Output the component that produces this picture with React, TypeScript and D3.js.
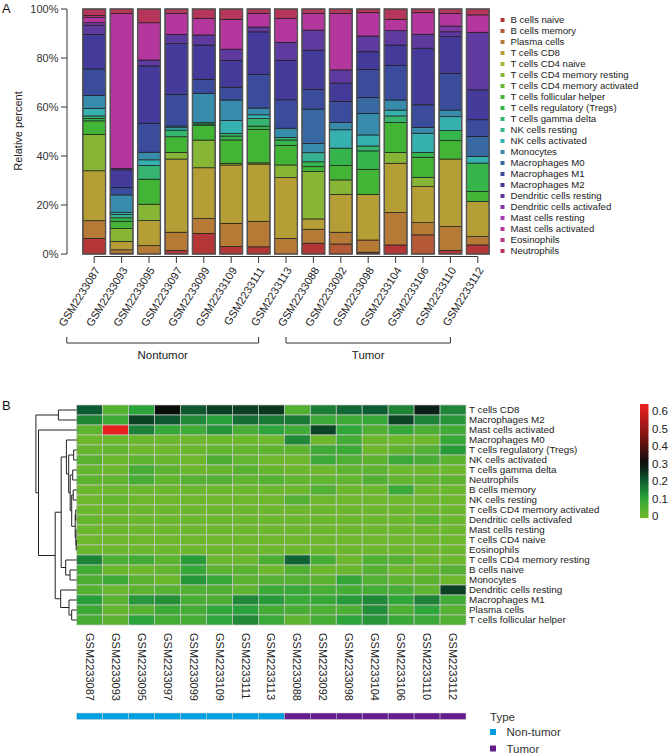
import React from "react";
import * as d3 from "d3";

// ---------- DATA ----------
const cellTypes = [
  "B cells naive", "B cells memory", "Plasma cells", "T cells CD8", "T cells CD4 naive",
  "T cells CD4 memory resting", "T cells CD4 memory activated", "T cells follicular helper",
  "T cells regulatory (Tregs)", "T cells gamma delta", "NK cells resting", "NK cells activated",
  "Monocytes", "Macrophages M0", "Macrophages M1", "Macrophages M2", "Dendritic cells resting",
  "Dendritic cells activafed", "Mast cells resting", "Mast cells activated", "Eosinophils", "Neutrophils",
];

const samples = [
  "GSM2233087", "GSM2233093", "GSM2233095", "GSM2233097", "GSM2233099", "GSM2233109", "GSM2233111",
  "GSM2233113", "GSM2233088", "GSM2233092", "GSM2233098", "GSM2233104", "GSM2233106", "GSM2233110",
  "GSM2233112",
];

const sampleType = [
  "Non-tumor", "Non-tumor", "Non-tumor", "Non-tumor", "Non-tumor", "Non-tumor", "Non-tumor", "Non-tumor",
  "Tumor", "Tumor", "Tumor", "Tumor", "Tumor", "Tumor", "Tumor",
];

// percentages per sample, in cellTypes order
const GSM2233087 = [6.4, 0, 7.2, 20.4, 0, 14.8, 0, 5.6, 1.0, 1.0, 0, 3.1, 5.2, 0, 10.9, 14.1, 3.8, 1.0, 0, 2.2, 0.7, 2.7];
const GSM2233093 = [0.3, 0, 1.4, 3.4, 0, 5.2, 0, 3.0, 1.4, 0, 1.4, 0.7, 7.2, 0, 3.0, 7.2, 0.5, 0, 0, 63.0, 0, 1.8];
const GSM2233095 = [0, 0, 3.4, 10.2, 0, 6.7, 0, 10.2, 0, 5.6, 0, 2.3, 3.1, 0, 11.8, 23.4, 2.4, 0, 0, 15.2, 0, 5.6];
const GSM2233097 = [1.4, 0, 7.5, 29.9, 0, 2.7, 0, 6.4, 0, 2.7, 0, 1.0, 0.7, 0, 12.9, 20.8, 3.7, 0, 0, 8.6, 0, 1.8];
const GSM2233099 = [8.4, 0, 6.1, 20.7, 0, 11.3, 0, 6.1, 0.5, 0.5, 0, 0, 12.0, 0, 5.7, 14.0, 4.1, 0, 0, 6.8, 0, 3.8];
const GSM2233109 = [3.0, 0, 9.5, 23.8, 0, 0.7, 0, 9.5, 1.6, 1.1, 0, 5.2, 8.4, 0, 5.2, 10.9, 4.6, 0, 0, 12.2, 0, 4.2];
const GSM2233111 = [3.0, 0, 10.6, 23.8, 0, 0.5, 0, 13.9, 1.4, 3.1, 0, 1.6, 2.8, 0, 13.9, 17.8, 2.0, 0, 0, 5.7, 0, 1.8];
const GSM2233113 = [0, 0, 6.4, 24.8, 0, 5.2, 0, 7.9, 2.3, 1.0, 0, 0, 3.8, 0, 11.6, 16.0, 7.5, 0, 0, 9.8, 0, 3.8];
const GSM2233088 = [4.4, 0, 5.7, 4.2, 0, 19.3, 0, 2.0, 2.0, 0, 3.7, 0, 3.8, 14.0, 8.0, 16.0, 8.2, 0, 0, 6.8, 0, 1.8];
const GSM2233092 = [0, 4.1, 4.8, 15.5, 0, 5.9, 0, 5.9, 7.1, 0, 0, 7.5, 3.0, 0, 8.6, 7.5, 5.4, 0, 0, 23.1, 0, 1.8];
const GSM2233098 = [0.7, 0, 5.0, 18.6, 0, 0, 0, 10.2, 7.5, 2.0, 0, 4.5, 8.8, 6.5, 11.4, 7.2, 6.4, 0, 0, 9.5, 0, 1.5];
const GSM2233104 = [3.7, 0, 13.2, 20.1, 0, 4.4, 0, 12.2, 0, 2.7, 0, 2.4, 4.1, 0, 14.0, 8.4, 5.9, 0, 0, 4.6, 0, 4.2];
const GSM2233106 = [0, 7.8, 5.0, 14.7, 0, 3.8, 0, 8.2, 2.0, 0, 0, 7.8, 2.3, 0, 9.3, 23.1, 5.7, 0, 0, 8.8, 0, 1.5];
const GSM2233110 = [1.4, 0, 9.8, 27.6, 0, 0, 0, 7.5, 4.1, 0, 0, 5.7, 2.7, 0, 15.0, 15.0, 2.0, 2.3, 0, 5.2, 0, 1.8];
const GSM2233112 = [3.7, 0, 3.4, 14.3, 0, 0, 0, 4.1, 11.6, 0, 0, 2.7, 0, 8.2, 6.8, 12.2, 23.5, 0, 0, 7.1, 0, 2.4];

const sampleValues = [
  GSM2233087, GSM2233093, GSM2233095, GSM2233097, GSM2233099, GSM2233109, GSM2233111, GSM2233113,
  GSM2233088, GSM2233092, GSM2233098, GSM2233104, GSM2233106, GSM2233110, GSM2233112,
];

const yTicks = [0, 0.2, 0.4, 0.6, 0.8, 1];
const groupLabels = ["Nontumor", "Tumor"];

// heatmap row order (clustered)
const heatRows = [
  "T cells CD8", "Macrophages M2", "Mast cells activated", "Macrophages M0", "T cells regulatory (Tregs)",
  "NK cells activated", "T cells gamma delta", "Neutrophils", "B cells memory", "NK cells resting",
  "T cells CD4 memory activated", "Dendritic cells activafed", "Mast cells resting", "T cells CD4 naive",
  "Eosinophils", "T cells CD4 memory resting", "B cells naive", "Monocytes", "Dendritic cells resting",
  "Macrophages M1", "Plasma cells", "T cells follicular helper",
];

// dendrogram: [left, right, height]; leaves are heatRows indices
const midRest = [[4, 5, 3], [[6, 7, 4], [[8, 9, 3.5], [[10, 11, 1], [12, [13, 14, 0.5], 0.8], 1.5], 5], 6.5], 8];
const dendrogram = [
  [0, 1, 18.3],
  [2, [[[3, midRest, 10.3], [15, [16, 17, 6.7], 11], 15.5], [18, [19, [20, 21, 5], 7.7], 16], 21.5], 38.2],
  40.8,
];

const colorTicks = [0, 0.1, 0.2, 0.3, 0.4, 0.5, 0.6];
const heatDomain = [0, 0.1, 0.2, 0.3, 0.45, 0.64];
const heatColors = ["#6cb82c", "#2ca53a", "#0d5e32", "#0a0d0a", "#7a1414", "#ee2020"];
const typeColors = { "Non-tumor": "#00a0e0", "Tumor": "#651c8c" };

// ---------- HELPERS ----------
function hsv(h: number, s: number, v: number) {
  const c = v * s;
  const hp = (h % 360) / 60;
  const x = c * (1 - Math.abs((hp % 2) - 1));
  let r = 0, g = 0, b = 0;
  if (hp < 1) [r, g, b] = [c, x, 0];
  else if (hp < 2) [r, g, b] = [x, c, 0];
  else if (hp < 3) [r, g, b] = [0, c, x];
  else if (hp < 4) [r, g, b] = [0, x, c];
  else if (hp < 5) [r, g, b] = [x, 0, c];
  else [r, g, b] = [c, 0, x];
  const m = v - c;
  return d3.rgb((r + m) * 255, (g + m) * 255, (b + m) * 255).formatHex();
}
function paletteColor(h: number) {
  const bump = Math.exp(-Math.pow((h - 240) / 45, 2));
  return hsv(h, 0.7 - 0.08 * bump, 0.71 - 0.11 * bump);
}

const FONT = "'Liberation Sans', Arial, Helvetica, sans-serif";

export default function App() {
  const W = 668, H = 754;

  // ---- Panel A ----
  const color = d3.scaleOrdinal<string, string>()
    .domain(cellTypes)
    .range(cellTypes.map((_, i) => paletteColor((i / cellTypes.length) * 360)));

  const table = samples.map((s, j) => {
    const o: any = { sample: s };
    cellTypes.forEach((t, i) => (o[t] = sampleValues[j][i]));
    return o;
  });
  const series = d3.stack<any>().keys(cellTypes).offset(d3.stackOffsetExpand)(table);

  const yA = d3.scaleLinear().domain([0, 1]).range([254, 9]);
  const xA = d3.scaleBand().domain(samples).range([80.5, 491.5]).paddingInner(0.17).paddingOuter(0.085);
  const bw = xA.bandwidth();
  const xc = (s: string) => (xA(s) as number) + bw / 2;
  const axisY = 256.5;

  const groupsIdx = groupLabels.map((g, gi) => {
    const key = gi === 0 ? "Non-tumor" : "Tumor";
    const idx = samples.map((_, i) => i).filter((i) => sampleType[i] === key);
    return { label: g, first: idx[0], last: idx[idx.length - 1] };
  });

  // ---- Panel B ----
  const hx0 = 76.7, hx1 = 466;
  const hy0 = 405, hy1 = 625;
  const xB = d3.scaleBand().domain(samples).range([hx0, hx1]);
  const yB = d3.scaleBand().domain(heatRows).range([hy0, hy1]);
  const heatColor = d3.scaleLinear<string>().domain(heatDomain).range(heatColors).clamp(true);

  // dendrogram layout
  const dx = d3.scaleLinear().domain([0, 40.8]).range([hx0, 35.9]);
  const segs: [number, number, number, number][] = [];
  const layout = (node: any): { y: number; h: number } => {
    if (typeof node === "number") {
      return { y: (yB(heatRows[node]) as number) + yB.bandwidth() / 2, h: 0 };
    }
    const a = layout(node[0]);
    const b = layout(node[1]);
    const h = node[2];
    segs.push([dx(h), a.y, dx(h), b.y]);
    segs.push([dx(a.h), a.y, dx(h), a.y]);
    segs.push([dx(b.h), b.y, dx(h), b.y]);
    return { y: (a.y + b.y) / 2, h };
  };
  layout(dendrogram);

  const cbScale = d3.scaleLinear().domain([0, 0.6]).range([516, 411]);
  const cbTop = cbScale(0.64), cbBot = cbScale(-0.012);
  const gradStops = d3.range(0, 1.0001, 0.05).map((t) => {
    const v = -0.012 + t * (0.64 + 0.012);
    return { off: t, col: heatColor(Math.max(0, v)) };
  });

  return (
    <svg width={W} height={H} style={{ position: "absolute", left: 0, top: 0, background: "#fff" }}
      fontFamily={FONT}>
      {/* ===== Panel A ===== */}
      <text x={2} y={13} fontSize={13} fill="#111">A</text>

      {/* y axis */}
      <line x1={67} x2={67} y1={yA(0)} y2={yA(1)} stroke="#333" strokeWidth={1} />
      {yTicks.map((t) => (
        <g key={t}>
          <line x1={61} x2={67} y1={yA(t)} y2={yA(t)} stroke="#333" strokeWidth={1} />
          <text x={58.5} y={yA(t)} dy="0.35em" textAnchor="end" fontSize={11} fill="#333">
            {`${Math.round(t * 100)}%`}
          </text>
        </g>
      ))}
      <text transform={`translate(18,131) rotate(-90)`} textAnchor="middle" dy="0.35em" fontSize={11} fill="#222">
        Relative percent
      </text>

      {/* bars */}
      {series.map((s) => (
        <g key={s.key} fill={color(s.key)}>
          {s.map((d, j) => {
            const y1 = yA(d[1]), y0 = yA(d[0]);
            if (y0 - y1 < 0.05) return null;
            return (
              <rect key={j} x={xA(samples[j])} y={y1} width={bw} height={y0 - y1}
                stroke="#1a1a1a" strokeWidth={0.7} />
            );
          })}
        </g>
      ))}
      {samples.map((s) => (
        <rect key={s} x={xA(s)} y={yA(1)} width={bw} height={yA(0) - yA(1)} fill="none"
          stroke="#555" strokeWidth={1.4} />
      ))}

      {/* x axis */}
      <line x1={xc(samples[0])} x2={xc(samples[samples.length - 1])} y1={axisY} y2={axisY} stroke="#333" />
      {samples.map((s) => (
        <g key={s}>
          <line x1={xc(s)} x2={xc(s)} y1={axisY} y2={263} stroke="#333" />
          <text transform={`translate(${xc(s) + 3},${268}) rotate(-58)`} textAnchor="end" dy="0.35em"
            fontSize={11} fill="#222">{s}</text>
        </g>
      ))}

      {/* group brackets */}
      {groupsIdx.map((g) => {
        const x1 = xc(samples[g.first]) - xA.step();
        const x2 = xc(samples[g.last]) - xA.step();
        return (
          <g key={g.label}>
            <path d={`M${x1},337V343H${x2}V337`} fill="none" stroke="#333" strokeWidth={1} />
            <text x={(x1 + x2) / 2} y={359} textAnchor="middle" fontSize={11.5} fill="#222">{g.label}</text>
          </g>
        );
      })}

      {/* legend A */}
      {cellTypes.map((t, i) => (
        <g key={t} transform={`translate(500,${20 + i * 11})`}>
          <rect x={0.5} y={-2} width={4} height={4} fill={color(t)} />
          <text x={10.5} y={0} dy="0.35em" fontSize={9.6} fill="#222">{t}</text>
        </g>
      ))}

      {/* ===== Panel B ===== */}
      <text x={2} y={410} fontSize={13} fill="#111">B</text>

      {/* heatmap cells */}
      {heatRows.map((r) => {
        const ti = cellTypes.indexOf(r);
        return samples.map((s, j) => (
          <rect key={r + s} x={xB(s)} y={yB(r)} width={xB.bandwidth()} height={yB.bandwidth()}
            fill={heatColor(sampleValues[j][ti] / 100)} stroke="#c9c9c9" strokeWidth={0.7} />
        ));
      })}

      {/* dendrogram */}
      {segs.map((sg, i) => (
        <line key={i} x1={sg[0]} y1={sg[1]} x2={sg[2]} y2={sg[3]} stroke="#222" strokeWidth={1} />
      ))}

      {/* row labels */}
      {heatRows.map((r) => (
        <text key={r} x={469} y={(yB(r) as number) + yB.bandwidth() / 2} dy="0.35em" fontSize={9.8} fill="#222">
          {r}
        </text>
      ))}

      {/* column labels */}
      {samples.map((s) => (
        <text key={s} transform={`translate(${(xB(s) as number) + xB.bandwidth() / 2},633) rotate(90)`}
          dy="0.35em" fontSize={11} fill="#222">{s}</text>
      ))}

      {/* type bar */}
      {samples.map((s, j) => (
        <rect key={s} x={xB(s)} y={713} width={xB.bandwidth()} height={6.5}
          fill={(typeColors as any)[sampleType[j]]} stroke="#d0d0d0" strokeWidth={0.5} />
      ))}

      {/* type legend */}
      <text x={490} y={717} dy="0.35em" fontSize={11.5} fill="#333">Type</text>
      {["Non-tumor", "Tumor"].map((t, i) => (
        <g key={t} transform={`translate(490,${732 + i * 16.5})`}>
          <rect x={0} y={-3} width={6} height={6} fill={(typeColors as any)[t]} />
          <text x={16.5} y={0} dy="0.35em" fontSize={11.5} fill="#333">{t}</text>
        </g>
      ))}

      {/* color bar */}
      <defs>
        <linearGradient id="cb" x1="0" y1="1" x2="0" y2="0">
          {gradStops.map((g, i) => (
            <stop key={i} offset={g.off} stopColor={g.col} />
          ))}
        </linearGradient>
      </defs>
      <rect x={640} y={cbTop} width={8.5} height={cbBot - cbTop} fill="url(#cb)" />
      {colorTicks.map((t) => (
        <text key={t} x={652} y={cbScale(t)} dy="0.35em" fontSize={11.5} fill="#222">{String(t)}</text>
      ))}
    </svg>
  );
}
